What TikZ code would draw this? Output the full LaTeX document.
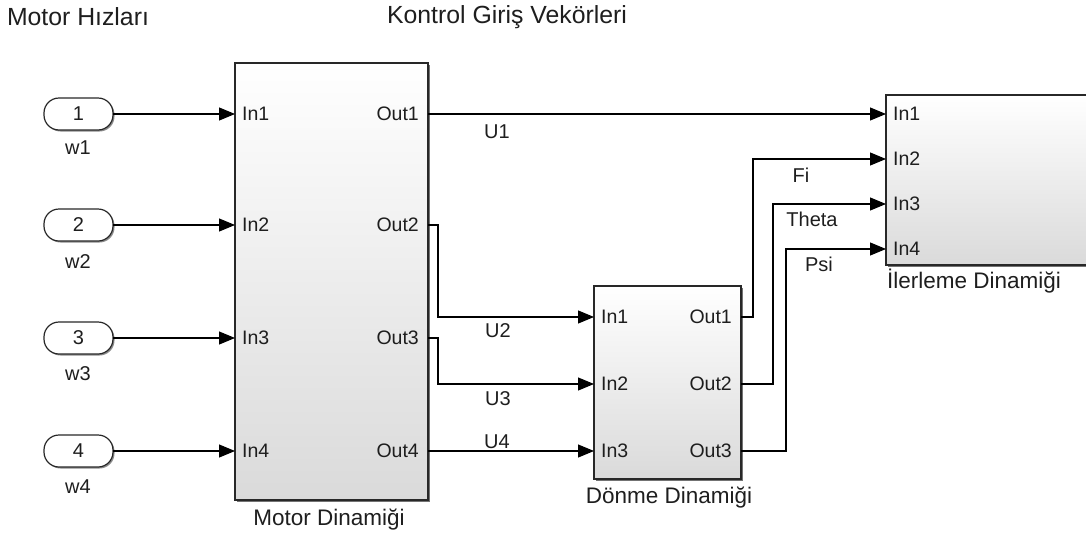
\documentclass[tikz,border=0pt]{standalone}
\usepackage{fontspec}
\setmainfont{Liberation Sans}
\usetikzlibrary{arrows.meta,shadows,calc}
\definecolor{txt}{RGB}{30,30,30}
\definecolor{blockbot}{RGB}{218,218,218}
\definecolor{edge}{RGB}{40,40,40}
\begin{document}
\begin{tikzpicture}[x=1pt,y=-1pt,
  block/.style={draw=edge, line width=1.3pt, top color=white, bottom color=blockbot,
    inner sep=0pt, outer sep=0pt,
    drop shadow={shadow xshift=2pt, shadow yshift=-2pt, opacity=0.55, fill=black}},
  inport/.style={draw=edge, line width=1.2pt, fill=white, rounded corners=15pt,
    minimum width=69pt, minimum height=32pt, inner sep=0pt, outer sep=0pt,
    font=\fontsize{20}{23}\selectfont, text=txt,
    drop shadow={shadow xshift=1.5pt, shadow yshift=-1.5pt, opacity=0.45, fill=black}},
  plbl/.style={font=\fontsize{19.5}{22}\selectfont, text=txt, inner sep=0pt},
  slbl/.style={font=\fontsize{20}{23}\selectfont, text=txt, inner sep=0pt},
  tlbl/.style={font=\fontsize{22.5}{25}\selectfont, text=txt, inner sep=0pt},
  toplbl/.style={font=\fontsize{24.8}{27}\selectfont, text=txt, inner sep=0pt},
  sig/.style={draw=black, line width=1.1pt, -{Triangle[length=16pt,width=13pt]}},
  wire/.style={draw=black, line width=1.1pt}
]
\useasboundingbox (0,0) rectangle (1086,541);
\clip (0,0) rectangle (1086,541);

% top labels
\node[toplbl] (tl1) at (78,17) {Motor Hızları};
\node[toplbl] (tl2) at (507,17) {Kontrol Giriş Vekörleri};

% blocks
\node[block, minimum width=193pt, minimum height=437pt] (motor) at (331.5,281.5) {};
\node[block, minimum width=147pt, minimum height=193pt] (donme) at (667.5,382.5) {};
\node[block, minimum width=214pt, minimum height=170pt] (ilerleme) at (993,180) {};

\node[tlbl] (motorT) at (329,520) {Motor Dinamiği};
\node[tlbl] (donmeT) at (669,498) {Dönme Dinamiği};
\node[tlbl, anchor=west] (ilerT) at (887,281) {İlerleme Dinamiği};

% port coordinates
\coordinate (m-in1) at (235,114);
\coordinate (m-in2) at (235,225);
\coordinate (m-in3) at (235,338);
\coordinate (m-in4) at (235,451);
\coordinate (m-out1) at (428,114);
\coordinate (m-out2) at (428,225);
\coordinate (m-out3) at (428,338);
\coordinate (m-out4) at (428,451);
\coordinate (d-in1) at (594,317);
\coordinate (d-in2) at (594,384);
\coordinate (d-in3) at (594,451);
\coordinate (d-out1) at (741,317);
\coordinate (d-out2) at (741,384);
\coordinate (d-out3) at (741,451);
\coordinate (i-in1) at (886,114);
\coordinate (i-in2) at (886,159);
\coordinate (i-in3) at (886,204);
\coordinate (i-in4) at (886,249);

% port labels
\foreach \k in {1,2,3,4}{
  \node[plbl, anchor=west] (ml\k) at ($(m-in\k)+(7,0)$) {In\k};
  \node[plbl, anchor=east] (mo\k) at ($(m-out\k)+(-9,0)$) {Out\k};
  \node[plbl, anchor=west] (il\k) at ($(i-in\k)+(7,0)$) {In\k};
}
\foreach \k in {1,2,3}{
  \node[plbl, anchor=west] (dl\k) at ($(d-in\k)+(7,0)$) {In\k};
  \node[plbl, anchor=east] (do\k) at ($(d-out\k)+(-9,0)$) {Out\k};
}

% input ports
\node[inport] (p1) at (78.5,114) {1};
\node[inport] (p2) at (78.5,225) {2};
\node[inport] (p3) at (78.5,338) {3};
\node[inport] (p4) at (78.5,451) {4};
\node[slbl] (w1) at (78,148) {w1};
\node[slbl] (w2) at (78,262) {w2};
\node[slbl] (w3) at (78,374) {w3};
\node[slbl] (w4) at (78,487) {w4};

% connectors
\draw[sig] (p1.east) -- (m-in1);
\draw[sig] (p2.east) -- (m-in2);
\draw[sig] (p3.east) -- (m-in3);
\draw[sig] (p4.east) -- (m-in4);

\draw[sig] (m-out1) -- (i-in1);
\draw[sig] (m-out2) -- ++(10,0) |- (d-in1);
\draw[sig] (m-out3) -- ++(10,0) |- (d-in2);
\draw[sig] (m-out4) -- (d-in3);

\draw[sig] (d-out1) -- ++(12,0) |- (i-in2);
\draw[sig] (d-out2) -- ++(32,0) |- (i-in3);
\draw[sig] (d-out3) -- ++(45,0) |- (i-in4);

% signal labels
\node[slbl] (u1) at (497,132) {U1};
\node[slbl] (u2) at (498,331) {U2};
\node[slbl] (u3) at (498,399) {U3};
\node[slbl] (u4) at (497,442) {U4};
\node[slbl] (fi) at (801,175) {Fi};
\node[slbl] (theta) at (812,219) {Theta};
\node[slbl] (psi) at (819,264) {Psi};
\end{tikzpicture}
\end{document}
